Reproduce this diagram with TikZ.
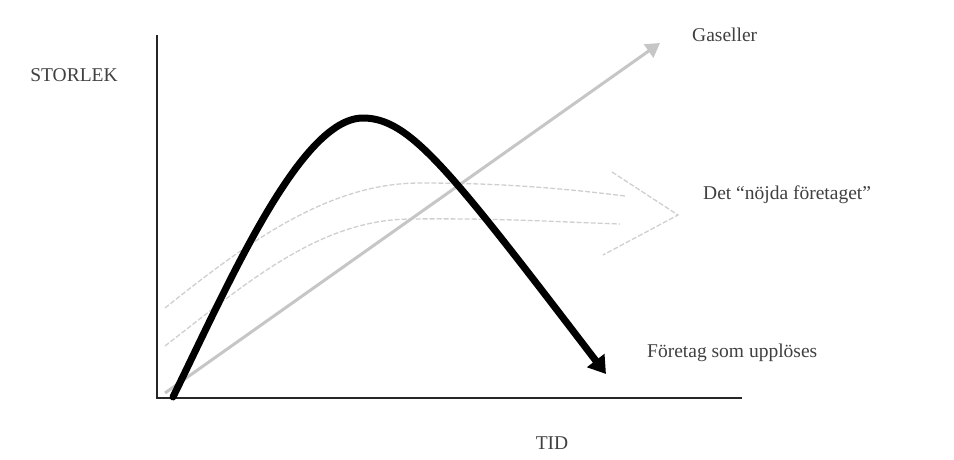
\documentclass[tikz,border=0pt]{standalone}
\usepackage{fontspec}
\setmainfont{Liberation Serif}
\usetikzlibrary{arrows.meta,positioning}

\begin{document}
\begin{tikzpicture}[ x=1pt, y=-1pt, font=\fontsize{19.5}{21}\selectfont,
        label/.style={ text=black!75, inner sep=0pt }, axis/.style={ line
        width=2.6pt, black!85 }, decline/.style={ line width=7pt, line
        cap=round, -{Triangle[length=17pt,width=21pt]} }, growth/.style={
        line width=3pt, gray!45, -{Triangle[length=14pt,width=16pt]} },
        content/.style={ line width=1.3pt, gray!38, dash pattern=on 5pt off
        2pt } ]

    \useasboundingbox (0,0) rectangle (954,459);

    \coordinate (origin) at (157,398); \coordinate (ytop) at (157,35);
    \coordinate (xend) at (742,398);

    \node[label] (size) at (74,75) {STORLEK}; \node[label] (time) at
    (552,443) {TID}; \node[label, anchor=west] (gasell) at (692,35)
    {Gaseller}; \node[label, anchor=west] (content) at (703,195) {Det
    “nöjda företaget”}; \node[label, anchor=west] (dissolve) at (647,353)
    {Företag som upplöses};

    \draw[axis] (ytop) -- (origin) -- (xend);

    % the content firm
    \draw[content] (165,308) .. controls (250,240) and (330,183) .. (420,183)
    .. controls (500,183) and (560,188) .. (625,196); \draw[content]
    (165,346) .. controls (250,280) and (320,220) .. (410,219) .. controls
    (500,218) and (560,222) .. (620,224); \draw[content] (612,172) --
    (678,215) -- (603,255);

    \draw[growth] (165,393) -- (660,43);

    \draw[decline] (173,397) .. controls (228,285) and (300,118) .. (363,118)
    .. controls (410,118) and (450,170) .. (606,374);

  \end{tikzpicture}
\end{document}
